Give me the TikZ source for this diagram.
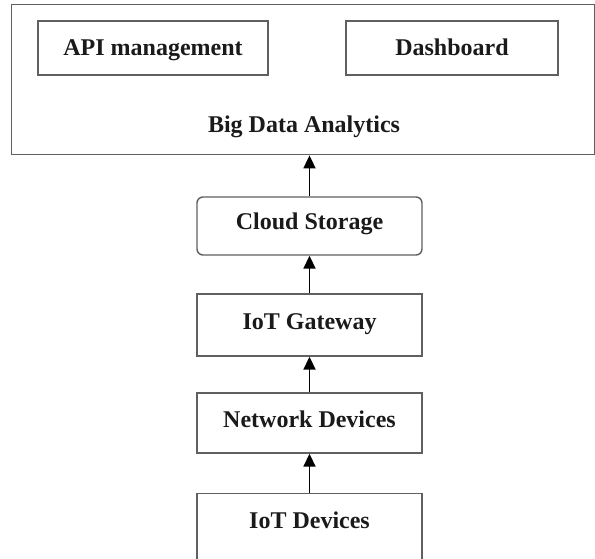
\documentclass[tikz,border=0pt]{standalone}
\usepackage{fontspec}
\setmainfont{Liberation Serif}
\usetikzlibrary{arrows.meta}
\definecolor{boxline}{HTML}{606060}
\definecolor{txt}{HTML}{1A1A1A}
\tikzset{
  box/.style={draw=boxline, line width=1.4bp, inner sep=0pt, text=txt,
    font=\fontsize{24bp}{28bp}\selectfont\bfseries,
    text height=17bp, text depth=9bp},
  midtext/.style={text height=17bp, text depth=1.5bp},
  lbl/.style={inner sep=0pt, text=txt, font=\fontsize{24bp}{28bp}\selectfont\bfseries},
  up/.style={line width=1.8bp, draw=black, -{Triangle[length=13bp,width=12bp]}}
}
\begin{document}
\begin{tikzpicture}[x=1bp,y=-1bp]
\useasboundingbox (0,0) rectangle (595,559);
% outer Big Data Analytics box
\node[box, anchor=north west, minimum width=583.5bp, minimum height=150bp] (bda) at (10.5,4) {};
\node[lbl, anchor=base] (bdatext) at (304,132.5) {Big Data Analytics};
\node[box, midtext, minimum width=230bp, minimum height=54bp] (api) at (153,48) {API management};
\node[box, midtext, minimum width=212bp, minimum height=54bp] (dash) at (452,48) {Dashboard};
% column
\node[box, rounded corners=6bp, minimum width=225bp, minimum height=58bp] (cloud) at (309.5,226) {Cloud Storage};
\node[box, minimum width=225bp, minimum height=62bp] (gate) at (309.5,325) {IoT Gateway};
\node[box, minimum width=225bp, minimum height=60bp] (net) at (309.5,423) {Network Devices};
\node[box, anchor=north, minimum width=225bp, text height=35bp, text depth=45bp] (dev) at (309.5,493) {IoT Devices};
% arrows
\draw[up] (cloud.north) -- (bda.south -| cloud.north);
\draw[up] (gate.north) -- (cloud.south);
\draw[up] (net.north) -- (gate.south);
\draw[up] (dev.north) -- (net.south);
\end{tikzpicture}
\end{document}
